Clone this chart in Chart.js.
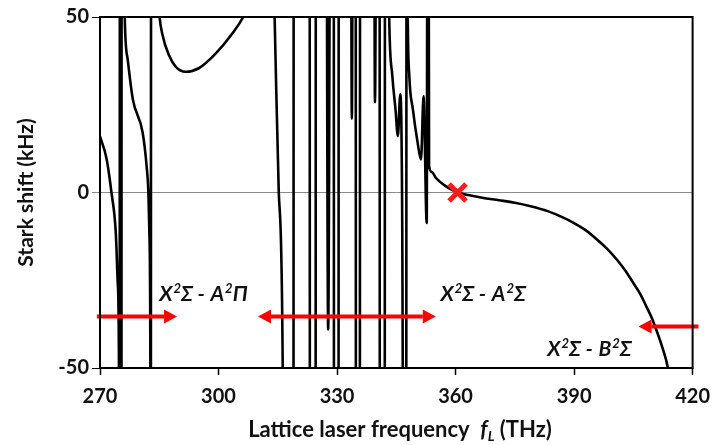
<!DOCTYPE html>
<html>
<head>
<meta charset="utf-8">
<script src="https://cdn.jsdelivr.net/npm/chart.js@4.4.1/dist/chart.umd.min.js"></script>
<style>
  html, body { margin: 0; padding: 0; background: #fff; }
  canvas { display: block; }
</style>
</head>
<body>
<canvas id="stark" width="720" height="445"></canvas>
<script>
// Frequências da rede (THz); cada par y=±200 desenha uma ressonância
const freqTHz = [
  270, 271.7, 272.9, 274.0, 274.5, 274.8, 274.95,
  275.05, 275.4, 275.5,
  276.0, 276.25, 277.0, 278.3, 280.8, 281.8, 282.25, 282.5, 282.75, 282.85,
  282.95, 283.6, 284.3, 285.0, 285.8, 287.5, 289.2, 291.7, 295.0, 299.2, 303.3, 306.7, 309.0, 312.0,
  313.7, 314.2, 315.25, 316.25, 316.6,
  318.95, 319.05,
  323.05, 323.15,
  324.55, 324.65,
  327.05, 327.75, 328.6,
  329.15, 329.25,
  330.35, 330.45,
  333.3, 333.75, 334.2,
  334.7, 334.8,
  335.75, 335.85,
  339.2, 339.6, 340.25,
  340.75, 340.85,
  342.05, 342.15,
  343.0, 343.2, 344.0, 344.8, 345.4, 346.0, 346.5, 347.1,
  347.5, 347.6, 347.8, 347.9, 348.3, 349.2, 350.4, 351.25, 351.9, 352.7,
  353.0, 353.3, 354.0, 355.0, 356.0, 357.5, 358.5, 360.5,
  363.5, 366.7, 371.0, 375.0, 379.0, 383.3, 387.0, 390.0, 393.0, 395.8,
  398.5, 400.8, 403.0, 405.0, 406.8, 408.3, 409.7, 410.8, 412.3, 413.75, 415.0
];

// Deslocamento Stark (kHz) para cada frequência acima
const starkShift = [
  16, 9.4, 0, -11.5, -26, -50, -200,
  200, -200, 200,
  80, 50.6, 38, 26.6, 17, 7.5, 0, -11.5, -50, -200,
  200, 100, 65, 51, 45, 39, 35.8, 34.4, 35.4, 39.5, 45, 51, 58, 70,
  70, 50, 0, -50, -200,
  -200, 200,
  200, -200,
  -200, 200,
  200, -39, 200,
  200, -200,
  -200, 200,
  200, 21, 200,
  200, -200,
  -200, 200,
  200, 25.7, 200,
  200, -200,
  -200, 200,
  70, 50, 33.2, 23.7, 16.1, 28, -8.6, -200,
  -200, 200, 70, 50, 33.2, 23.7, 14.2, 9.4, 27.5, -8.7,
  200, 7.5, 5.8, 4.2, 3.1, 1.8, 1.1, 0,
  -0.8, -1.5, -2.2, -2.9, -3.9, -5.3, -7.0, -8.7, -10.8, -13.4,
  -16.2, -19.1, -22.3, -25.8, -29.0, -32.5, -35.8, -39.1, -44.0, -50, -60
];

// Ponto de operação marcado com o X vermelho
const markerFreq = [360.5];
const markerShift = [0];

// Rótulos dos eixos
const xTicks = [270, 300, 330, 360, 390, 420];
const yTicks = [-50, 0, 50];

// Setas e textos das transições (anotações)
const setas = [
  { de: 269.2, ate: 289.5, y: -35.3, duas: false },
  { de: 310.0, ate: 355.0, y: -35.3, duas: true },
  { de: 421.5, ate: 406.3, y: -38.2, duas: false }
];
const textos = [
  { f: 285.0, y: -31.0, partes: ['X', '2', 'Σ - ', 'A', '2', 'Π'] },
  { f: 356.2, y: -31.0, partes: ['X', '2', 'Σ - ', 'A', '2', 'Σ'] },
  { f: 383.2, y: -46.5, partes: ['X', '2', 'Σ - ', 'B', '2', 'Σ'] }
];

var pontos = freqTHz.map(function(f, i) {
  return { x: f, y: starkShift[i] };
});
var marcador = markerFreq.map(function(f, i) {
  return { x: f, y: markerShift[i] };
});

var FONTE = 'Lato, "Open Sans", sans-serif';

// Desenha uma seta na cor vermelha
function desenhaSeta(ctx, x1, x2, y, duas) {
  var dir = x2 > x1 ? 1 : -1;
  var comp = 13, meia = 7;
  ctx.save();
  ctx.strokeStyle = '#ff0000';
  ctx.fillStyle = '#ff0000';
  ctx.lineWidth = 4;
  ctx.beginPath();
  ctx.moveTo(duas ? x1 + dir * comp : x1, y);
  ctx.lineTo(x2 - dir * comp, y);
  ctx.stroke();
  function ponta(x, d) {
    ctx.beginPath();
    ctx.moveTo(x, y);
    ctx.lineTo(x - d * comp, y - meia);
    ctx.lineTo(x - d * comp, y + meia);
    ctx.closePath();
    ctx.fill();
  }
  ponta(x2, dir);
  if (duas) ponta(x1, -dir);
  ctx.restore();
}

// Plugin: moldura, setas, textos e título do eixo x
const extras = {
  id: 'extras',
  afterDatasetsDraw: function(chart) {
    var ctx = chart.ctx;
    var a = chart.chartArea;
    var sx = chart.scales.x, sy = chart.scales.y;

    setas.forEach(function(s) {
      desenhaSeta(ctx, sx.getPixelForValue(s.de), sx.getPixelForValue(s.ate),
        sy.getPixelForValue(s.y), s.duas);
    });

    ctx.save();
    ctx.fillStyle = '#111';
    ctx.textBaseline = 'alphabetic';
    textos.forEach(function(t) {
      var x = sx.getPixelForValue(t.f);
      var y = sy.getPixelForValue(t.y);
      t.partes.forEach(function(p, i) {
        var sup = (i === 1 || i === 4);
        ctx.font = 'italic bold ' + (sup ? '13px ' : '21px ') + FONTE;
        ctx.fillText(p, x, sup ? y - 8 : y);
        x += ctx.measureText(p).width + (sup ? 0 : 1);
      });
    });
    ctx.restore();

    // moldura do gráfico
    ctx.save();
    ctx.strokeStyle = '#000';
    ctx.lineWidth = 2;
    ctx.strokeRect(a.left, a.top, a.right - a.left, a.bottom - a.top);
    ctx.restore();

    // título do eixo x com f itálico e índice L
    ctx.save();
    ctx.fillStyle = '#111';
    ctx.textBaseline = 'alphabetic';
    var partes = [
      { t: 'Lattice laser frequency  ', f: 'bold 22px ' + FONTE, dy: 0 },
      { t: 'f', f: 'italic bold 22px ' + FONTE, dy: 0 },
      { t: 'L', f: 'italic bold 14px ' + FONTE, dy: 4 },
      { t: ' (THz)', f: 'bold 22px ' + FONTE, dy: 0 }
    ];
    var total = 0;
    partes.forEach(function(p) { ctx.font = p.f; total += ctx.measureText(p.t).width; });
    var x = 400 - total / 2;
    var y = 437;
    partes.forEach(function(p) {
      ctx.font = p.f;
      ctx.fillText(p.t, x, y + p.dy);
      x += ctx.measureText(p.t).width;
    });
    ctx.restore();
  }
};

var ctx = document.getElementById('stark').getContext('2d');

var grafico = new Chart(ctx, {
  type: 'line',
  data: {
    datasets: [
      {
        label: 'X marcador',
        data: marcador,
        showLine: false,
        pointStyle: 'crossRot',
        pointRadius: 12,
        pointBorderWidth: 5,
        pointBorderColor: '#ff1a1a',
        pointBackgroundColor: '#ff1a1a',
        order: 0
      },
      {
        label: 'Stark shift',
        data: pontos,
        borderColor: '#000',
        borderWidth: 2.6,
        pointRadius: 0,
        cubicInterpolationMode: 'monotone',
        spanGaps: false,
        clip: 0,
        order: 1
      }
    ]
  },
  options: {
    responsive: false,
    animation: false,
    devicePixelRatio: 1,
    layout: { padding: { top: 17, right: 20, left: 0, bottom: 0 } },
    plugins: { legend: { display: false }, tooltip: { enabled: false } },
    scales: {
      x: {
        type: 'linear',
        min: xTicks[0],
        max: xTicks[xTicks.length - 1],
        afterBuildTicks: function(s) { s.ticks = xTicks.map(function(v) { return { value: v }; }); },
        afterFit: function(s) { s.height = 77; },
        border: { display: false },
        grid: {
          drawOnChartArea: false,
          tickLength: 7,
          tickColor: '#000',
          tickWidth: 1.5
        },
        ticks: {
          color: '#111',
          padding: 10,
          maxRotation: 0,
          minRotation: 0,
          font: { family: FONTE, size: 20, weight: 'bold' }
        }
      },
      y: {
        min: yTicks[0],
        max: yTicks[yTicks.length - 1],
        afterBuildTicks: function(s) { s.ticks = yTicks.map(function(v) { return { value: v }; }); },
        afterFit: function(s) { s.width = 100; },
        border: { display: false },
        grid: {
          color: function(c) { return c.tick && c.tick.value === 0 ? '#8a8a8a' : 'rgba(0,0,0,0)'; },
          tickColor: function(c) { return c.tick && c.tick.value === 0 ? '#8a8a8a' : '#000'; },
          lineWidth: 1,
          tickLength: 8
        },
        ticks: {
          color: '#111',
          padding: 3,
          font: { family: FONTE, size: 20, weight: 'bold' }
        },
        title: {
          display: true,
          text: 'Stark shift (kHz)',
          color: '#111',
          padding: { top: 14, bottom: 0 },
          font: { family: FONTE, size: 21, weight: 'bold' }
        }
      }
    }
  },
  plugins: [extras]
});
</script>
</body>
</html>
